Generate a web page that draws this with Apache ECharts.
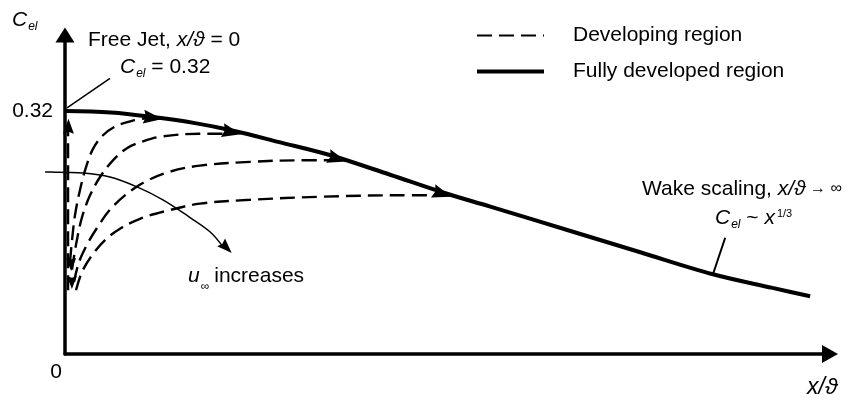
<!DOCTYPE html>
<html>
<head>
<meta charset="utf-8">
<script src="https://cdn.jsdelivr.net/npm/echarts@6/dist/echarts.min.js"></script>
<style>
  html, body { margin: 0; padding: 0; background: #fff; }
  #chart { width: 860px; height: 401px; }
</style>
</head>
<body>
<div id="chart"></div>
<script>
// fully developed region, C_el against x/θ (x in arbitrary schematic units)
const fullyX = [0, 6, 11.5, 17, 22, 28, 34.6, 42.5, 49.3, 55.6, 66.4, 75.2, 84.7, 92.5, 97.4];
const fullyY = [0.32, 0.318, 0.312, 0.304, 0.294, 0.279, 0.262, 0.236, 0.213, 0.194, 0.161, 0.134, 0.105, 0.087, 0.076];

// developing region curves, one per free stream velocity
const devAX = [0.65, 0.92, 1.31, 1.96, 2.75, 3.66, 4.97, 6.67, 8.76, 11.1];
const devAY = [0.121, 0.150, 0.183, 0.216, 0.246, 0.270, 0.288, 0.300, 0.307, 0.311];
const devBX = [0.92, 1.44, 2.22, 3.27, 4.58, 6.27, 8.1, 10.2, 12.4, 17.6, 21.3];
const devBY = [0.111, 0.144, 0.180, 0.209, 0.233, 0.255, 0.271, 0.280, 0.286, 0.290, 0.290];
const devCX = [1.18, 1.83, 2.88, 4.18, 5.88, 8.1, 10.5, 13.7, 17.6, 24.2, 30.7, 34.6];
const devCY = [0.095, 0.121, 0.144, 0.166, 0.190, 0.211, 0.227, 0.240, 0.248, 0.253, 0.255, 0.255];
const devDX = [1.44, 2.22, 3.53, 5.23, 7.19, 9.8, 13.1, 17.6, 24.2, 33.3, 43.8, 48.5];
const devDY = [0.084, 0.108, 0.130, 0.150, 0.165, 0.178, 0.188, 0.198, 0.203, 0.207, 0.209, 0.209];
const jetX = [0.4, 0.4];
const jetY = [0.084, 0.300];

// "u_inf increases" arrow (starts left of the C_el axis)
const uX = [-2.6, -1.3, 0, 2.35, 5.88, 9.41, 12.8, 16.3, 18.95, 20.6];
const uY = [0.2396, 0.2394, 0.239, 0.2383, 0.233, 0.220, 0.203, 0.180, 0.161, 0.142];

// leader lines for the notes
const lead1X = [0.26, 5.88];
const lead1Y = [0.324, 0.363];
const lead2X = [86.3, 84.7];
const lead2Y = [0.153, 0.105];

// arrow heads sitting on the curves
const arrowX = [11.5, 21.8, 35.6, 49.3, 21.1, 0.45, 0.8, 0.9];
const arrowY = [0.311, 0.292, 0.257, 0.211, 0.140, 0.300, 0.118, 0.094];

const yTicks = [0.32];
const xTicks = [0];

const arrowRot = [-97, -103, -107, -108, -135, 0, 180, 180];
const arrowSize = [[14, 19], [14, 19], [14, 19], [14, 19], [11, 15], [11, 15], [10, 13], [10, 13]];
const ARROW = 'path://M5,0L10,20L5,17.5L0,20Z';

const FONT = '"Liberation Sans", Arial, Helvetica, sans-serif';
const pairs = (xs, ys) => xs.map((x, i) => [x, ys[i]]);

const rich = {
	n: { fontSize: 21, fontFamily: FONT, fill: '#000' },
	i: { fontSize: 21, fontFamily: FONT, fontStyle: 'italic', fill: '#000' },
	big: { fontSize: 23, fontFamily: FONT, fontStyle: 'italic', fill: '#000' },
	sub: { fontSize: 12, fontFamily: FONT, fontStyle: 'italic', fill: '#000', padding: [14, 0, 0, 1] },
	inf: { fontSize: 12, fontFamily: FONT, fill: '#000', padding: [22, 5, 0, 1] },
	sup: { fontSize: 11, fontFamily: FONT, fill: '#000', padding: [0, 0, 8, 2] },
	sm: { fontSize: 16, fontFamily: FONT, fill: '#000' }
};

function note(x, y, text) {
	return {
		type: 'text', x: x, y: y, silent: true,
		style: { text: text, rich: rich, fill: '#000', verticalAlign: 'middle', align: 'left', fontSize: 21, fontFamily: FONT }
	};
}

function curve(name, xs, ys, lineStyle, smooth) {
	return {
		type: 'line', name: name, data: pairs(xs, ys),
		smooth: smooth, symbol: 'none', showSymbol: false, clip: false, silent: true,
		itemStyle: { color: '#000' },
		lineStyle: lineStyle, z: 2
	};
}

const dash = { color: '#000', width: 2.4, type: [15, 7] };
const thin = { color: '#000', width: 1.5 };
const hiddenAxis = { show: false, splitLine: { show: false } };

// second grid shares the scale of the first one but reaches 2.6 units further left
const uCurve = curve('u increases', uX, uY, thin, 0.35);
uCurve.xAxisIndex = 1;
uCurve.yAxisIndex = 1;

const chart = echarts.init(document.getElementById('chart'));

chart.setOption({
	animation: false,
	backgroundColor: '#fff',
	grid: [
		{ left: 65, right: 30, top: 35, bottom: 47, containLabel: false, outerBoundsMode: 'none' },
		{ left: 45.1, right: 30, top: 35, bottom: 47, containLabel: false, outerBoundsMode: 'none' }
	],
	legend: {
		orient: 'vertical', left: 475, top: 25, padding: 0,
		itemWidth: 67, itemHeight: 14, itemGap: 15,
		selectedMode: false,
		textStyle: { fontSize: 21, fontFamily: FONT, color: '#000', padding: [0, 0, 0, 24] },
		data: [
			{ name: 'Developing region', itemStyle: { opacity: 0 }, lineStyle: { width: 2.2, color: '#000', opacity: 1 } },
			{ name: 'Fully developed region', itemStyle: { opacity: 0 }, lineStyle: { width: 4, color: '#000', opacity: 1 } }
		]
	},
	xAxis: [
		{
			type: 'value', min: 0, max: 100,
			splitLine: { show: false },
			axisTick: { show: false },
			axisLine: { show: true, symbol: ['none', 'triangle'], symbolSize: [18, 16], lineStyle: { color: '#000', width: 3.5 } },
			axisLabel: { customValues: xTicks, fontSize: 21, fontFamily: FONT, color: '#000', margin: 8, align: 'right', padding: [0, 3, 0, 0] }
		},
		Object.assign({ type: 'value', gridIndex: 1, min: -2.6, max: 100 }, hiddenAxis)
	],
	yAxis: [
		{
			type: 'value', min: 0, max: 0.42,
			splitLine: { show: false },
			axisTick: { show: false },
			axisLine: { show: true, symbol: ['none', 'triangle'], symbolSize: [19, 15], lineStyle: { color: '#000', width: 3.5 } },
			axisLabel: { customValues: yTicks, fontSize: 21, fontFamily: FONT, color: '#000', margin: 12 }
		},
		Object.assign({ type: 'value', gridIndex: 1, min: 0, max: 0.42 }, hiddenAxis)
	],
	series: [
		curve('Fully developed region', fullyX, fullyY, { color: '#000', width: 4 }, 0.35),
		curve('Developing region', devAX, devAY, dash, 0.35),
		curve('Developing region', devBX, devBY, dash, 0.35),
		curve('Developing region', devCX, devCY, dash, 0.35),
		curve('Developing region', devDX, devDY, dash, 0.35),
		curve('Developing region', jetX, jetY, dash, false),
		uCurve,
		curve('leader 1', lead1X, lead1Y, thin, false),
		curve('leader 2', lead2X, lead2Y, { color: '#000', width: 2 }, false),
		{
			type: 'scatter', name: 'arrow heads', clip: false, silent: true, z: 5,
			itemStyle: { color: '#000', opacity: 1 },
			data: arrowX.map((x, i) => ({
				value: [x, arrowY[i]],
				symbol: ARROW,
				symbolSize: arrowSize[i],
				symbolRotate: arrowRot[i],
				symbolKeepAspect: false
			}))
		}
	],
	graphic: [
		note(12, 20, '{i|C}{sub|el}'),
		note(88, 40, '{n|Free Jet, }{i|x/ϑ}{n| = 0}'),
		note(120, 67, '{i|C}{sub|el}{n| = 0.32}'),
		note(188, 276, '{i|u}{inf|∞}{n|increases}'),
		note(642, 189, '{n|Wake scaling, }{i|x/ϑ}{sm| → ∞}'),
		note(715, 218, '{i|C}{sub|el}{n| ~ }{i|x}{sup|1/3}'),
		note(807, 388, '{big|x/ϑ}')
	]
});
</script>
</body>
</html>
